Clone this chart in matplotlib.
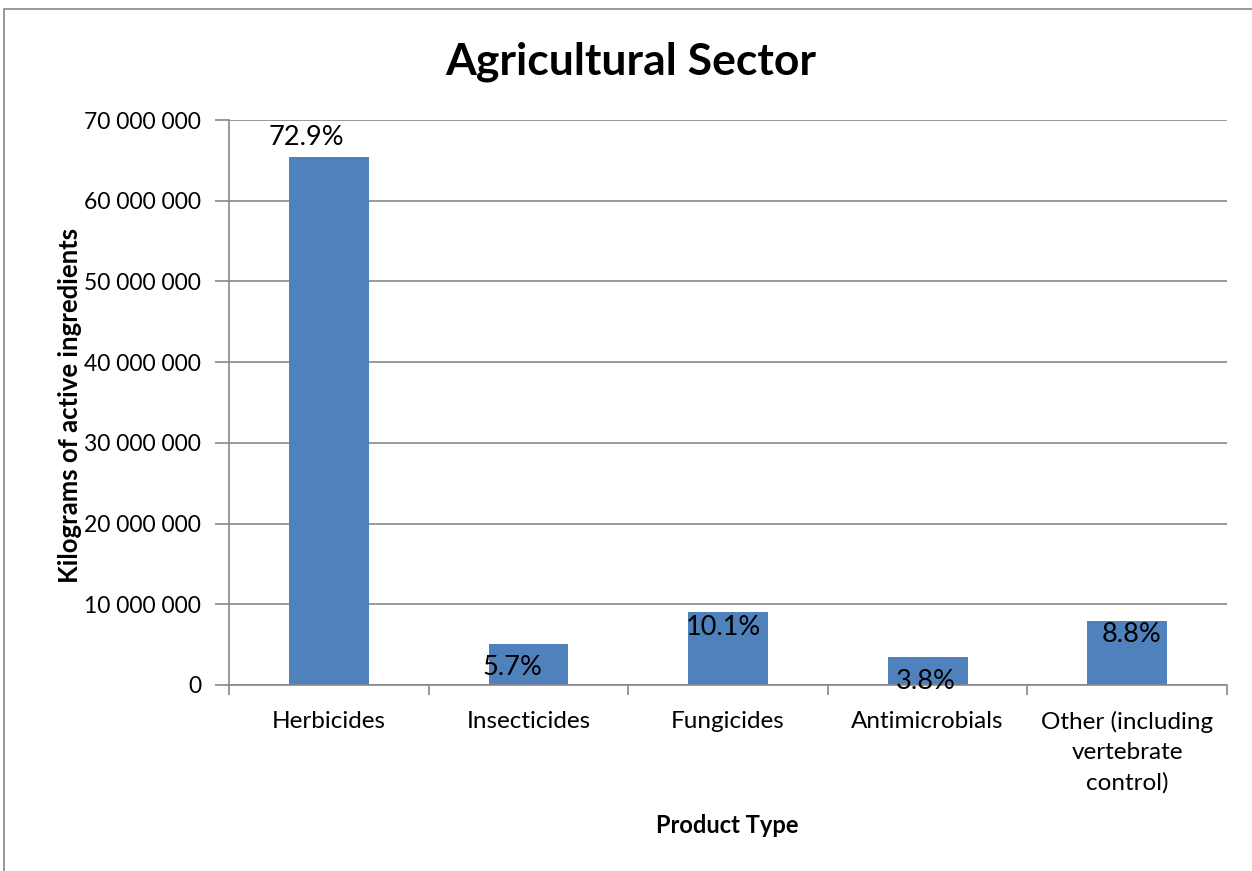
import numpy as np
import matplotlib.pyplot as plt
from matplotlib.patches import Rectangle

# Data
categories = ['Herbicides', 'Insecticides', 'Fungicides', 'Antimicrobials',
              'Other (including\nvertebrate\ncontrol)']
kilograms = [65400000, 5100000, 9050000, 3450000, 7950000]
pct_labels = ['72.9%', '5.7%', '10.1%', '3.8%', '8.8%']

# label nudges in points (dx, dy), mimic the hand placed Excel labels
label_nudge = [(-16, 5), (-11.5, -8.3), (-3, -2.5), (-1.5, -8.3), (3, -1)]

plt.rcParams['font.family'] = ['Lato', 'DejaVu Sans']

fig = plt.figure(figsize=(12.52, 8.71), dpi=100)
ax = fig.add_axes([0.183, 0.2136, 0.797, 0.6486])

# outer chart frame like an Excel chart area
fig.patches.append(Rectangle((0.0035, -0.05), 1.2, 1.04, transform=fig.transFigure,
                             fill=False, edgecolor='#888888', linewidth=1.2))

x = np.arange(len(categories))
ax.bar(x, kilograms, width=0.4, color='#4F81BD', zorder=3)

ax.set_xlim(-0.5, len(categories) - 0.5)
ax.set_ylim(0, 70000000)
ax.set_yticks(np.arange(0, 70000001, 10000000))
ax.set_yticklabels([f'{v:,}'.replace(',', ' ') for v in range(0, 70000001, 10000000)],
                   fontsize=16.5)
ax.set_xticks(x)
ax.set_xticklabels(categories, fontsize=17.5, linespacing=1.5)
ax.set_xticks(np.arange(-0.5, len(categories)), minor=True)
ax.tick_params(axis='x', which='major', length=0, pad=19)
ax.tick_params(axis='x', which='minor', length=7, color='#888888', width=1.2)
ax.tick_params(axis='y', length=10, color='#888888', width=1.2, pad=10)

ax.grid(axis='y', color='#888888', linewidth=1.2, zorder=0)
for side in ['top', 'right']:
    ax.spines[side].set_visible(False)
for side in ['left', 'bottom']:
    ax.spines[side].set_color('#888888')
    ax.spines[side].set_linewidth(1.2)
    ax.spines[side].set_zorder(4)

# data labels: first one outside end, others inside end
for i, (v, lab) in enumerate(zip(kilograms, pct_labels)):
    dx, dy = label_nudge[i]
    ax.annotate(lab, (i, v), xytext=(dx, dy), textcoords='offset points',
                ha='center', va='bottom' if i == 0 else 'top',
                fontsize=19.5, zorder=5)

fig.text(0.504, 0.914, 'Agricultural Sector', fontsize=32, fontweight='bold',
         ha='center', va='baseline')
fig.text(0.056, 0.534, 'Kilograms of active ingredients', fontsize=18.5,
         fontweight='bold', rotation=90, ha='center', va='center')
fig.text(0.581, 0.052, 'Product Type', fontsize=17, fontweight='bold',
         ha='center', va='center')

fig.savefig('out.png', dpi=100)
